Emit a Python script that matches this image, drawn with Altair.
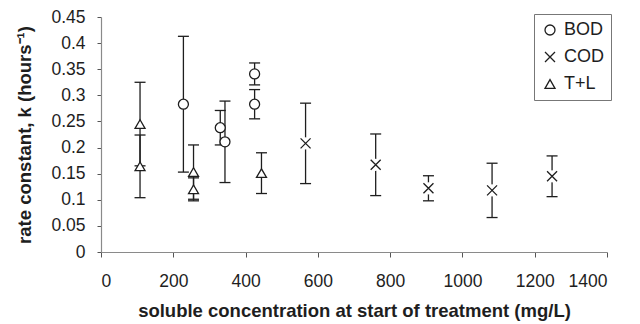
import altair as alt
import pandas as pd

series = ["BOD", "COD", "T+L"]

bod_x = [228, 330, 343, 425, 425]
bod_k = [0.283, 0.238, 0.211, 0.341, 0.283]
bod_err = [0.13, 0.033, 0.078, 0.021, 0.028]

cod_x = [566, 760, 906, 1082, 1248]
cod_k = [0.208, 0.167, 0.122, 0.118, 0.145]
cod_err = [0.077, 0.059, 0.024, 0.052, 0.039]

tl_x = [108, 108, 256, 256, 444]
tl_k = [0.245, 0.164, 0.153, 0.12, 0.151]
tl_err = [0.08, 0.06, 0.052, 0.022, 0.039]

x_ticks = [0, 200, 400, 600, 800, 1000, 1200, 1400]
y_ticks = [0, 0.05, 0.1, 0.15, 0.2, 0.25, 0.3, 0.35, 0.4, 0.45]

rows = []
for name, xs, ks, es in [("BOD", bod_x, bod_k, bod_err),
                         ("COD", cod_x, cod_k, cod_err),
                         ("T+L", tl_x, tl_k, tl_err)]:
    for xv, kv, ev in zip(xs, ks, es):
        rows.append({"series": name, "conc": xv, "k": kv,
                     "lo": kv - ev, "hi": kv + ev})
df = pd.DataFrame(rows)

INK = "#1e1e1e"
FONT = "Liberation Sans"
CROSS = "M-1,-1L1,1M1,-1L-1,1"

xscale = alt.Scale(domain=[0, 1400], nice=False)
yscale = alt.Scale(domain=[0, 0.45], nice=False)


def xaxis():
    return alt.Axis(values=x_ticks, format="d", grid=False,
                    labelOverlap=False,
                    title="soluble concentration at start of treatment (mg/L)",
                    labelFontSize=17.5, labelPadding=15, tickSize=5,
                    titleFontSize=18.5, titleFontWeight="bold",
                    titlePadding=12)


def yaxis():
    return alt.Axis(values=y_ticks, format="~g", grid=False,
                    labelOverlap=False,
                    title="rate constant, k (hours⁻¹)",
                    labelFontSize=17.5, labelPadding=12, tickSize=4,
                    titleFontSize=18.5, titleFontWeight="bold",
                    titlePadding=16)


def X():
    return alt.X("conc:Q", scale=xscale, axis=xaxis())


def Y(field):
    return alt.Y(f"{field}:Q", scale=yscale, axis=yaxis())


base = alt.Chart(df)

rule = base.mark_rule(color=INK, strokeWidth=1.3).encode(
    x=X(), y=Y("lo"), y2="hi:Q")
cap_lo = base.mark_tick(orient="horizontal", size=11, thickness=1.3,
                        color=INK, opacity=1).encode(x=X(), y=Y("lo"))
cap_hi = base.mark_tick(orient="horizontal", size=11, thickness=1.3,
                        color=INK, opacity=1).encode(x=X(), y=Y("hi"))

bg = base.transform_filter(alt.datum.series == "COD").mark_point(
    filled=True, fill="white", shape="circle", size=150, opacity=1,
    strokeWidth=0).encode(x=X(), y=Y("k"))

leg = alt.Legend(title=None, orient="none",
                 legendX=433, legendY=-3,
                 strokeColor="#777", fillColor="white",
                 padding=7, rowPadding=9,
                 labelFontSize=18, labelOffset=5,
                 symbolSize=100, symbolStrokeWidth=1.3,
                 symbolFillColor="white")

pts = base.mark_point(filled=False, fill="white",
                      strokeWidth=1.3, size=100, opacity=1).encode(
    x=X(), y=Y("k"),
    shape=alt.Shape("series:N",
                    scale=alt.Scale(domain=series,
                                    range=["circle", CROSS, "triangle-up"]),
                    legend=leg),
    color=alt.Color("series:N",
                    scale=alt.Scale(domain=series, range=[INK, INK, INK]),
                    legend=leg),
)

chart = alt.layer(rule, cap_lo, cap_hi, bg, pts).properties(
    width=506, height=235,
    autosize=alt.AutoSizeParams(type="none"),
    padding={"left": 93, "top": 9, "right": 10, "bottom": 70},
).configure_view(stroke=None).configure_axis(
    labelFont=FONT, titleFont=FONT, labelColor=INK, titleColor=INK,
    domainColor="#8a8a8a", tickColor="#555", domainWidth=1.2,
).configure_legend(labelFont=FONT, labelColor=INK)

chart.save("out.html", embed_options={"renderer": "svg", "actions": False})
